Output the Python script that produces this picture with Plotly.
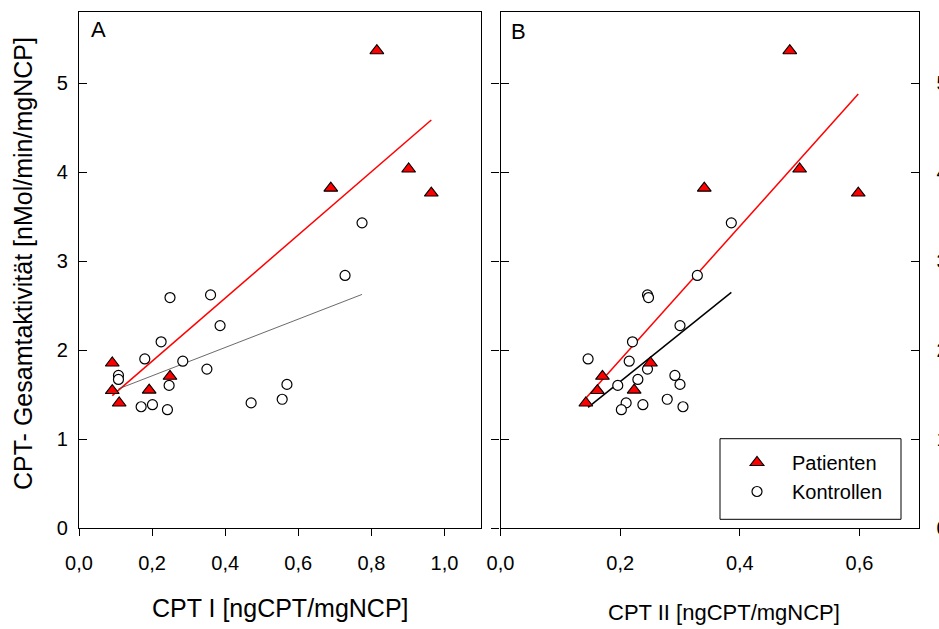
import numpy as np
import plotly.graph_objects as go

# ---- data ----
# Patients: total CPT activity, CPT I and CPT II
patients_gesamt = [5.365, 3.82, 4.035, 3.765, 1.855, 1.545, 1.405, 1.55, 1.705]
patients_cpt1 = [0.815, 0.689, 0.902, 0.964, 0.091, 0.091, 0.110, 0.192, 0.249]
patients_cpt2 = [0.4835, 0.3406, 0.500, 0.598, 0.2507, 0.162, 0.1426, 0.2234, 0.1704]

# Controls
controls_gesamt = [3.43, 2.839, 2.62, 2.59, 2.275, 2.093, 1.90, 1.875, 1.786,
                   1.715, 1.67, 1.603, 1.614, 1.447, 1.406, 1.363, 1.386, 1.33]
controls_cpt1 = [0.7745, 0.728, 0.36, 0.249, 0.386, 0.2247, 0.18, 0.284, 0.35,
                 0.108, 0.108, 0.2466, 0.569, 0.556, 0.471, 0.17, 0.201, 0.242]
controls_cpt2 = [0.3858, 0.329, 0.2457, 0.2474, 0.300, 0.2206, 0.1464, 0.2151, 0.2457,
                 0.2915, 0.2296, 0.196, 0.300, 0.2787, 0.21, 0.305, 0.238, 0.202]

xticks_a = [0.0, 0.2, 0.4, 0.6, 0.8, 1.0]
xticklabels_a = ["0,0", "0,2", "0,4", "0,6", "0,8", "1,0"]
xticks_b = [0.0, 0.2, 0.4, 0.6]
xticklabels_b = ["0,0", "0,2", "0,4", "0,6"]
yticks = [0, 1, 2, 3, 4, 5]
yticklabels = ["0", "1", "2", "3", "4", "5"]

FONT = "Liberation Sans, Arial, Helvetica, sans-serif"
RED = "#FF0000"
W, H = 939, 629


def fit_line(x, y):
    coef = np.polyfit(x, y, 1)
    xs = np.array([min(x), max(x)])
    return xs, np.polyval(coef, xs)


fig = go.Figure()

# empty helper traces so that the overlaid tick axes of panel B get drawn
for ya in ("y3", "y4"):
    fig.add_trace(go.Scatter(x=[], y=[], xaxis="x2", yaxis=ya, showlegend=False,
                             hoverinfo="skip", mode="markers"))

for xa, ya, px, cx, show in [("x", "y", patients_cpt1, controls_cpt1, True),
                             ("x2", "y2", patients_cpt2, controls_cpt2, False)]:
    lx, ly = fit_line(px, patients_gesamt)
    fig.add_trace(go.Scatter(x=lx, y=ly, mode="lines", xaxis=xa, yaxis=ya,
                             line=dict(color=RED, width=1.5), showlegend=False,
                             hoverinfo="skip"))
    kx, ky = fit_line(cx, controls_gesamt)
    fig.add_trace(go.Scatter(x=kx, y=ky, mode="lines", xaxis=xa, yaxis=ya,
                             line=dict(color="#444444" if show else "black",
                                       width=0.8 if show else 1.5),
                             showlegend=False, hoverinfo="skip"))
    fig.add_trace(go.Scatter(x=cx, y=controls_gesamt, mode="markers", xaxis=xa, yaxis=ya,
                             name="Kontrollen", showlegend=show, legendrank=2,
                             marker=dict(symbol="circle", size=10, color="white",
                                         line=dict(color="black", width=1.2))))
    fig.add_trace(go.Scatter(x=px, y=patients_gesamt, mode="markers", xaxis=xa, yaxis=ya,
                             name="Patienten", showlegend=show, legendrank=1,
                             marker=dict(symbol="triangle-up", size=12, color=RED,
                                         line=dict(color="black", width=1.1))))

axis_common = dict(showgrid=False, zeroline=False, showline=True, linecolor="black",
                   linewidth=1.3, tickcolor="black", tickwidth=1.3, automargin=False,
                   tickfont=dict(family=FONT, size=20, color="black"))

ydom = [(H - 528) / H, (H - 12) / H]

fig.update_layout(
    width=W, height=H, autosize=False,
    margin=dict(l=0, r=0, t=0, b=0, pad=0, autoexpand=False),
    paper_bgcolor="white", plot_bgcolor="white",
    font=dict(family=FONT, color="black"),
    xaxis=dict(domain=[79 / W, 481 / W], range=[0, 1.1], tickvals=xticks_a,
               ticktext=xticklabels_a, ticks="outside", ticklen=7, mirror=True,
               anchor="y", ticklabelstandoff=10, **axis_common),
    yaxis=dict(domain=ydom, range=[0, 5.8], tickvals=yticks,
               ticktext=yticklabels, ticks="inside", ticklen=8, mirror=True,
               anchor="x", ticklabelstandoff=6, **axis_common),
    xaxis2=dict(domain=[500.5 / W, 919.3 / W], range=[0, 0.7], tickvals=xticks_b,
                ticktext=xticklabels_b, ticks="outside", ticklen=7, mirror=True,
                anchor="y2", ticklabelstandoff=10, **axis_common),
    yaxis2=dict(domain=ydom, range=[0, 5.8], tickvals=yticks,
                ticks="outside", ticklen=8, showticklabels=False, anchor="x2",
                **axis_common),
    yaxis3=dict(range=[0, 5.8], tickvals=yticks,
                ticktext=yticklabels, ticks="inside", ticklen=8, side="right",
                overlaying="y2", anchor="x2", ticklabelstandoff=12, **axis_common),
    yaxis4=dict(range=[0, 5.8], tickvals=yticks,
                ticks="inside", ticklen=8, showticklabels=False, side="left",
                overlaying="y2", anchor="x2", **axis_common),
    legend=dict(x=722 / W, y=(H - 443) / H, xanchor="left", yanchor="top",
                borderwidth=0, bgcolor="rgba(0,0,0,0)",
                font=dict(family=FONT, size=20, color="black"), itemwidth=60,
                traceorder="normal"),
    shapes=[
        dict(type="rect", xref="paper", yref="paper", x0=720 / W, x1=901 / W,
             y0=(H - 519.3) / H, y1=(H - 438.7) / H,
             line=dict(color="black", width=1), fillcolor="white", layer="below"),
    ],
    annotations=[
        dict(text="CPT- Gesamtaktivität [nMol/min/mgNCP]", xref="paper", yref="paper",
             x=23 / W, y=(H - 264) / H, xanchor="center", yanchor="middle",
             textangle=-90, showarrow=False, font=dict(family=FONT, size=25)),
        dict(text="CPT I [ngCPT/mgNCP]", xref="paper", yref="paper",
             x=280 / W, y=(H - 608) / H, xanchor="center", yanchor="middle",
             showarrow=False, font=dict(family=FONT, size=25)),
        dict(text="CPT II [ngCPT/mgNCP]", xref="paper", yref="paper",
             x=724 / W, y=(H - 612) / H, xanchor="center", yanchor="middle",
             showarrow=False, font=dict(family=FONT, size=22)),
        dict(text="A", xref="paper", yref="paper", x=98 / W, y=(H - 30) / H,
             xanchor="center", yanchor="middle", showarrow=False,
             font=dict(family=FONT, size=22)),
        dict(text="B", xref="paper", yref="paper", x=518 / W, y=(H - 32) / H,
             xanchor="center", yanchor="middle", showarrow=False,
             font=dict(family=FONT, size=22)),
    ],
)

fig.write_html(
    "out.html",
    config={"displayModeBar": False},
    post_script="document.body.style.margin='0';document.body.style.padding='0';"
                "document.body.style.overflow='hidden';",
)
